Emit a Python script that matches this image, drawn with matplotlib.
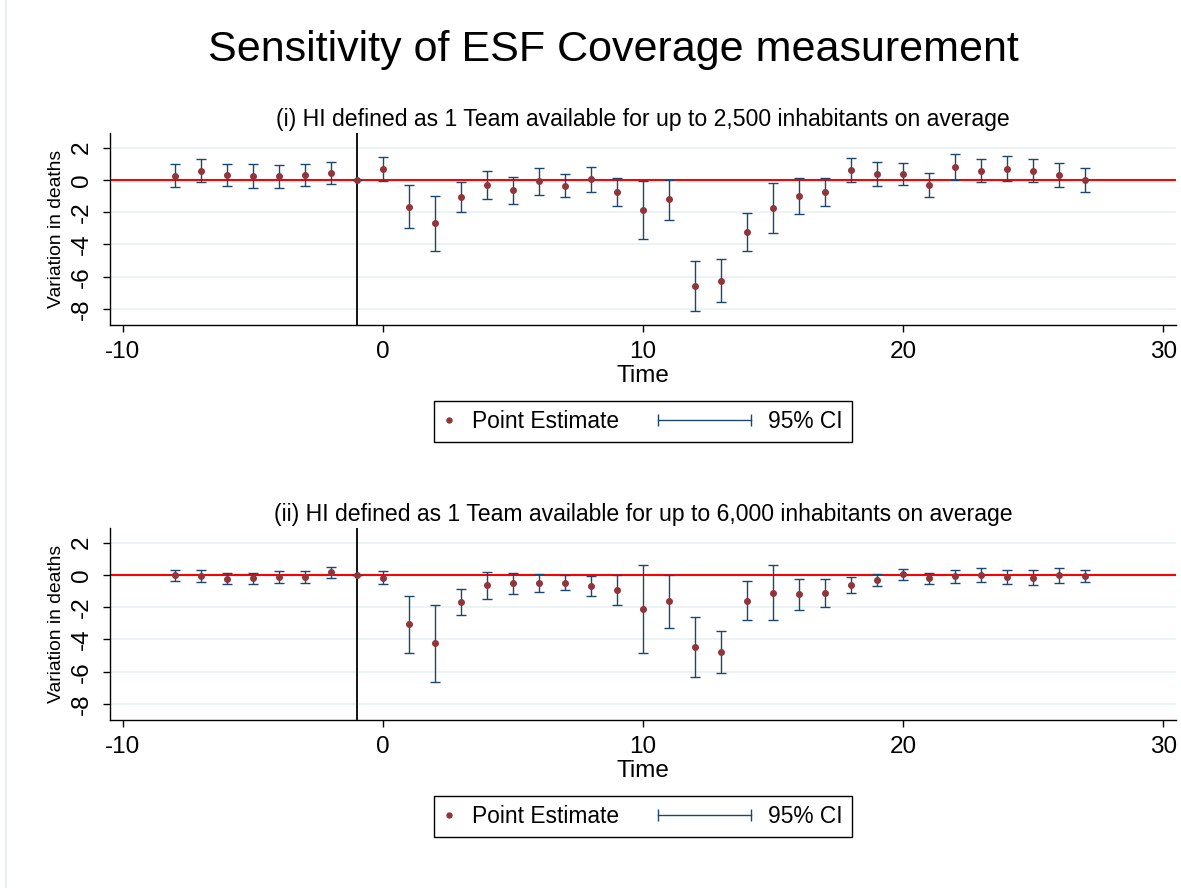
import matplotlib
matplotlib.use("Agg")
import matplotlib.pyplot as plt
import numpy as np
from matplotlib.lines import Line2D
from matplotlib.legend_handler import HandlerBase

plt.rcParams["font.family"] = ["Liberation Sans", "DejaVu Sans"]
plt.rcParams["axes.unicode_minus"] = False

# event time
time = list(range(-8, 28))

# (i) 1 team per 2,500 inhabitants
est_1 = [0.25, 0.58, 0.33, 0.25, 0.21, 0.29, 0.43, 0.0, 0.66, -1.65, -2.70, -1.07,
         -0.33, -0.64, -0.10, -0.37, 0.04, -0.74, -1.85, -1.21, -6.56, -6.23, -3.23,
         -1.77, -0.99, -0.76, 0.60, 0.37, 0.37, -0.31, 0.80, 0.58, 0.70, 0.56, 0.31, -0.02]
hi_1 = [0.97, 1.30, 0.99, 0.97, 0.93, 0.97, 1.13, 0.0, 1.40, -0.31, -1.01, -0.14,
        0.56, 0.16, 0.72, 0.37, 0.82, 0.14, -0.04, 0.02, -5.02, -4.90, -2.04,
        -0.21, 0.10, 0.10, 1.34, 1.09, 1.03, 0.41, 1.58, 1.32, 1.46, 1.30, 1.07, 0.72]
lo_1 = [-0.45, -0.16, -0.37, -0.49, -0.49, -0.39, -0.27, 0.0, -0.08, -3.00, -4.40, -2.00,
        -1.19, -1.48, -0.95, -1.09, -0.76, -1.60, -3.64, -2.47, -8.11, -7.59, -4.42,
        -3.31, -2.12, -1.63, -0.14, -0.35, -0.33, -1.03, 0.02, -0.16, -0.04, -0.16, -0.43, -0.78]

# (ii) 1 team per 6,000 inhabitants
est_2 = [0.0, -0.06, -0.23, -0.21, -0.12, -0.14, 0.17, 0.0, -0.17, -3.02, -4.24, -1.65,
         -0.64, -0.52, -0.52, -0.48, -0.68, -0.93, -2.11, -1.61, -4.46, -4.75, -1.59,
         -1.10, -1.20, -1.12, -0.60, -0.33, 0.04, -0.21, -0.04, 0.02, -0.12, -0.19, -0.02, -0.04]
hi_2 = [0.33, 0.31, 0.14, 0.14, 0.21, 0.21, 0.50, 0.0, 0.21, -1.28, -1.86, -0.85,
        0.19, 0.14, 0.08, 0.02, -0.08, 0.0, 0.64, 0.0, -2.60, -3.45, -0.37,
        0.62, -0.23, -0.25, -0.12, 0.04, 0.39, 0.14, 0.31, 0.43, 0.27, 0.27, 0.45, 0.33]
lo_2 = [-0.37, -0.43, -0.56, -0.56, -0.50, -0.52, -0.21, 0.0, -0.58, -4.81, -6.61, -2.46,
        -1.47, -1.18, -1.07, -0.95, -1.28, -1.84, -4.83, -3.26, -6.32, -6.05, -2.81,
        -2.77, -2.17, -1.98, -1.10, -0.70, -0.33, -0.58, -0.52, -0.45, -0.56, -0.64, -0.52, -0.43]

panel_titles = [
    "(i) HI defined as 1 Team available for up to 2,500 inhabitants on average",
    "(ii) HI defined as 1 Team available for up to 6,000 inhabitants on average",
]
x_ticks = [-10, 0, 10, 20, 30]
y_ticks = [-8, -6, -4, -2, 0, 2]

NAVY = "#1a476f"
MAROON = "#90353b"


class CIHandler(HandlerBase):
    """Horizontal line with caps at both ends, stretched to the left."""

    def __init__(self, extra):
        super().__init__()
        self.extra = extra

    def create_artists(self, legend, orig_handle, xdescent, ydescent,
                       width, height, fontsize, trans):
        y = height / 2 - ydescent
        x0 = -xdescent - self.extra * fontsize
        x1 = -xdescent + width
        line = Line2D([x0, x1], [y, y], color=NAVY, lw=1.0,
                      marker="|", markersize=9, markeredgewidth=1.0)
        line.set_transform(trans)
        return [line]


fig = plt.figure(figsize=(11.81, 8.88), dpi=100)
fig.add_artist(Line2D([0.005, 0.005], [0.0, 1.0], color="#e6eef2", lw=1.2))

fig.text(0.519, 0.944, "Sensitivity of ESF Coverage measurement",
         ha="center", va="center", fontsize=31)

panels = [(est_1, lo_1, hi_1), (est_2, lo_2, hi_2)]
bottoms = [0.6337, 0.1889]

for k, (est, lo, hi) in enumerate(panels):
    ax = fig.add_axes([0.0929, bottoms[k], 0.903, 0.2165])
    est = np.array(est)
    yerr = [est - np.array(lo), np.array(hi) - est]

    for y in y_ticks:
        ax.axhline(y, color="#eaf2f3", lw=1.3, zorder=0)
    ax.axhline(0, color="red", lw=1.5, zorder=1)
    ax.axvline(-1, color="black", lw=1.3, zorder=1)

    ax.errorbar(time, est, yerr=yerr, fmt="none", ecolor=NAVY, elinewidth=1.0,
                capsize=3.8, capthick=1.0, zorder=2)
    ax.plot(time, est, "o", color=MAROON, markersize=4.0, zorder=3)

    ax.set_xlim(-10.5, 30.5)
    ax.set_ylim(-9.0, 2.9)
    ax.set_xticks(x_ticks)
    ax.set_yticks(y_ticks)
    ax.tick_params(axis="both", labelsize=17.5, length=5, width=1.0, direction="out")
    ax.tick_params(axis="x", pad=6)
    ax.tick_params(axis="y", pad=7)
    for lab in ax.get_yticklabels():
        lab.set_rotation(90)
        lab.set_va("center")
    for side in ["top", "right"]:
        ax.spines[side].set_visible(False)
    ax.spines["left"].set_linewidth(1.0)
    ax.spines["bottom"].set_linewidth(1.0)

    ax.set_xlabel("Time", fontsize=17.5, labelpad=2)
    ax.set_ylabel("Variation in deaths", fontsize=13.9, labelpad=4)
    ax.set_title(panel_titles[k], fontsize=16.6, pad=5)

    pt = Line2D([], [], linestyle="none", marker="o", color=MAROON, markersize=3.6)
    ci = Line2D([], [], color=NAVY)
    leg = ax.legend([pt, ci], ["Point Estimate", "95% CI"], ncol=2,
                    loc="center", bbox_to_anchor=(0.5, -0.5),
                    handler_map={ci: CIHandler(3.56)},
                    fontsize=16.4, handlelength=0.5, handletextpad=0.75,
                    columnspacing=5.3, borderpad=0.4, fancybox=False,
                    edgecolor="black", framealpha=1.0)
    leg.get_frame().set_linewidth(1.0)

fig.savefig("out.png", dpi=100)
